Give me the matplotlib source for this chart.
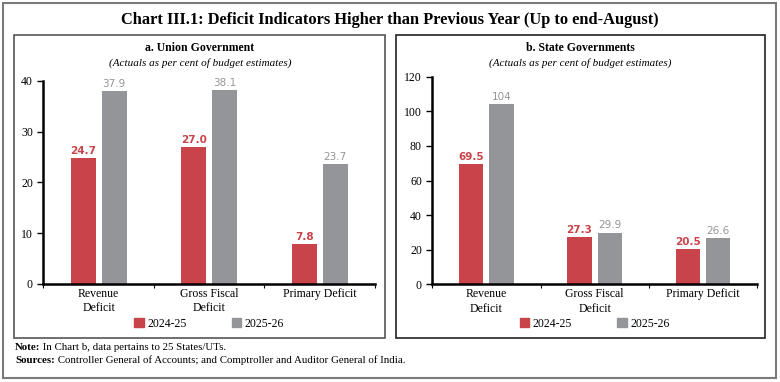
import numpy as np
import matplotlib.pyplot as plt
from matplotlib.patches import Rectangle, Patch

# Data
categories = ['Revenue\nDeficit', 'Gross Fiscal\nDeficit', 'Primary Deficit']
years = ['2024-25', '2025-26']
union_2425 = [24.7, 27.0, 7.8]
union_2526 = [37.9, 38.1, 23.7]
state_2425 = [69.5, 27.3, 20.5]
state_2526 = [104, 29.9, 26.6]
state_2526_labels = ['104', '29.9', '26.6']

red = '#C8444A'
grey = '#939598'
plt.rcParams['font.family'] = ['Liberation Serif', 'DejaVu Serif']

fig = plt.figure(figsize=(7.8, 3.82), dpi=100)
W, H = 780, 382

def box(x0, y0, x1, y1, color, lw):
    fig.patches.append(Rectangle((x0 / W, 1 - y1 / H), (x1 - x0) / W, (y1 - y0) / H,
                                 transform=fig.transFigure, fill=False,
                                 edgecolor=color, linewidth=lw))

# Outer frame and panel boxes
box(3, 3, 776, 378, '#7a7a7a', 1.5)
box(13.5, 35, 384.5, 338, '#555555', 1.2)
box(395.5, 35, 765, 338, '#222222', 1.2)

fig.text(0.5, 1 - 20 / H, 'Chart III.1: Deficit Indicators Higher than Previous Year (Up to end-August)',
         ha='center', va='center', fontsize=11.8, fontweight='bold')

def panel(rect, v1, v2, labels2, ymax, step, title, tcx):
    ax = fig.add_axes(rect)
    x = np.arange(len(categories))
    off, w = 0.14, 0.225
    ax.bar(x - off, v1, w, color=red)
    ax.bar(x + off, v2, w, color=grey)
    for xi, v in zip(x, v1):
        ax.text(xi - off, v + ymax * 0.01, f'{v:.1f}', ha='center', va='bottom',
                fontsize=7.5, color=red, fontweight='bold', family='DejaVu Sans')
    for xi, v, s in zip(x, v2, labels2):
        ax.text(xi + off, v + ymax * 0.01, s, ha='center', va='bottom',
                fontsize=7.5, color=grey, family='DejaVu Sans')
    ax.set_xlim(-0.5, 2.5)
    ax.set_ylim(0, ymax)
    ax.set_yticks(np.arange(0, ymax + 1, step))
    ax.tick_params(axis='y', labelsize=8.5, length=4, width=1, direction='out')
    # ticks at category boundaries, labels at centres
    ax.set_xticks([-0.5, 0.5, 1.5, 2.5])
    ax.set_xticklabels([])
    ax.tick_params(axis='x', length=3, width=0.8, direction='out')
    ax.set_xticks(x, minor=True)
    ax.set_xticklabels(categories, minor=True, fontsize=8.5, linespacing=1.25)
    ax.tick_params(axis='x', which='minor', length=0, pad=3)
    for s in ['top', 'right']:
        ax.spines[s].set_visible(False)
    for s in ['left', 'bottom']:
        ax.spines[s].set_linewidth(1.8)
    fig.text(tcx / W, 1 - 48 / H, title, ha='center', va='center',
             fontsize=8.5, fontweight='bold')
    fig.text(tcx / W, 1 - 63 / H, '(Actuals as per cent of budget estimates)',
             ha='center', va='center', fontsize=8, style='italic')
    handles = [Patch(color=red), Patch(color=grey)]
    lcx = rect[0] + rect[2] / 2
    fig.legend(handles, years, loc='center', bbox_to_anchor=(lcx, 1 - 324 / H),
               ncol=2, frameon=False, fontsize=8.5, handlelength=0.8, handleheight=0.8,
               handletextpad=0.3, columnspacing=3.8)
    return ax

panel([43.3 / W, 1 - 284 / H, 331.7 / W, 203.3 / H], union_2425, union_2526,
      [f'{v:.1f}' for v in union_2526], 40, 10, 'a. Union Government', 200)
panel([432.3 / W, 1 - 284.3 / H, 324.7 / W, 207.6 / H], state_2425, state_2526,
      state_2526_labels, 120, 20, 'b. State Governments', 580)

# Footnotes: bold lead-in followed by regular text
notes = [('Note:', ' In Chart b, data pertains to 25 States/UTs.', 350),
         ('Sources:', ' Controller General of Accounts; and Comptroller and Auditor General of India.', 363)]
for head, body, yy in notes:
    t = fig.text(15 / W, 1 - yy / H, head, ha='left', va='baseline',
                 fontsize=7.8, fontweight='bold')
    fig.add_artist(plt.Annotation(body, xy=(1, 0), xycoords=t, xytext=(0, 0),
                                  textcoords='offset points', ha='left', va='bottom',
                                  fontsize=7.8))

fig.savefig('out.png', dpi=100)
